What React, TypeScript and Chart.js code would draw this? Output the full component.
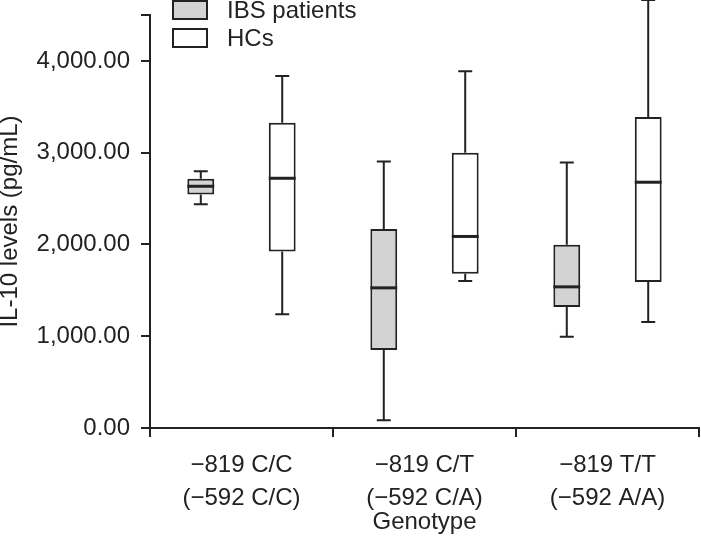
import React, { useEffect, useRef } from "react";
import { Chart, registerables } from "chart.js";

Chart.register(...registerables);

// ---- Data ----
const CATEGORIES: string[][] = [
  ["\u2212819 C/C", "(\u2212592 C/C)"],
  ["\u2212819 C/T", "(\u2212592 C/A)"],
  ["\u2212819 T/T", "(\u2212592 A/A)"],
];
const SERIES_NAMES = ["IBS patients", "HCs"];

const IBS_MIN = [2437, 84, 995];
const IBS_Q1 = [2543, 849, 1319];
const IBS_MEDIAN = [2634, 1527, 1538];
const IBS_Q3 = [2715, 2168, 1997];
const IBS_MAX = [2798, 2904, 2893];

const HC_MIN = [1239, 1603, 1155];
const HC_Q1 = [1923, 1680, 1592];
const HC_MEDIAN = [2721, 2087, 2678];
const HC_Q3 = [3327, 2999, 3388];
const HC_MAX = [3836, 3887, 4663];

const Y_TICKS = [0, 1000, 2000, 3000, 4000, 4500];
const Y_LABELED_MAX = 4000;

const X_TITLE = "Genotype";
const Y_TITLE = "IL-10 levels (pg/mL)";

// ---- Styles ----
const INK = "#222222";
const FONT_FAMILY = "'Liberation Sans', Arial, Helvetica, sans-serif";

const whiskerPlugin = {
  id: "whiskers",
  afterDatasetsDraw(chart: any) {
    const { ctx } = chart;
    const yScale = chart.scales.y;
    chart.data.datasets.forEach((ds: any, di: number) => {
      const meta = chart.getDatasetMeta(di);
      meta.data.forEach((el: any, i: number) => {
        const x = el.x;
        const w = el.width;
        const yMin = yScale.getPixelForValue(ds.stats.min[i]);
        const yMax = yScale.getPixelForValue(ds.stats.max[i]);
        const yQ1 = yScale.getPixelForValue(ds.data[i][0]);
        const yQ3 = yScale.getPixelForValue(ds.data[i][1]);
        const yMed = yScale.getPixelForValue(ds.stats.median[i]);
        ctx.save();
        ctx.strokeStyle = INK;
        ctx.lineWidth = 2;
        ctx.beginPath();
        ctx.moveTo(x, yQ3);
        ctx.lineTo(x, yMax);
        ctx.moveTo(x, yQ1);
        ctx.lineTo(x, yMin);
        const cap = w * 0.26;
        ctx.moveTo(x - cap, yMax);
        ctx.lineTo(x + cap, yMax);
        ctx.moveTo(x - cap, yMin);
        ctx.lineTo(x + cap, yMin);
        ctx.stroke();
        ctx.lineWidth = 3;
        ctx.beginPath();
        ctx.moveTo(x - w / 2, yMed);
        ctx.lineTo(x + w / 2, yMed);
        ctx.stroke();
        ctx.restore();
      });
    });
  },
};

const legendPlugin = {
  id: "boxLegend",
  afterDraw(chart: any) {
    const { ctx, chartArea } = chart;
    const x0 = chartArea.left + 23;
    ctx.save();
    chart.data.datasets.forEach((ds: any, i: number) => {
      const y0 = 1 + i * 28;
      ctx.fillStyle = ds.backgroundColor;
      ctx.fillRect(x0, y0, 34, 18);
      ctx.strokeStyle = INK;
      ctx.lineWidth = 2;
      ctx.strokeRect(x0, y0, 34, 18);
      ctx.fillStyle = INK;
      ctx.font = `24px ${FONT_FAMILY}`;
      ctx.textBaseline = "middle";
      ctx.textAlign = "left";
      ctx.fillText(ds.label, x0 + 54, y0 + 10);
    });
    ctx.restore();
  },
};

export default function App() {
  const canvasRef = useRef<HTMLCanvasElement | null>(null);

  useEffect(() => {
    document.body.style.margin = "0";
    const canvas = canvasRef.current;
    if (!canvas) return;

    const mk = (
      label: string,
      q1: number[],
      q3: number[],
      min: number[],
      median: number[],
      max: number[],
      fill: string
    ) => ({
      label,
      data: q1.map((v, i) => [v, q3[i]]),
      stats: { min, median, max },
      backgroundColor: fill,
      borderColor: INK,
      borderWidth: 2,
      borderSkipped: false,
      categoryPercentage: 0.89,
      barPercentage: 0.33,
      clip: false,
    });

    const chart = new Chart(canvas, {
      type: "bar",
      data: {
        labels: CATEGORIES,
        datasets: [
          mk(SERIES_NAMES[0], IBS_Q1, IBS_Q3, IBS_MIN, IBS_MEDIAN, IBS_MAX, "#d3d3d3"),
          mk(SERIES_NAMES[1], HC_Q1, HC_Q3, HC_MIN, HC_MEDIAN, HC_MAX, "#ffffff"),
        ] as any,
      },
      options: {
        animation: false,
        responsive: false,
        maintainAspectRatio: false,
        layout: { padding: { top: 15, right: 2, left: 0, bottom: 0 } },
        plugins: {
          legend: { display: false },
          tooltip: { enabled: false },
        },
        scales: {
          x: {
            type: "category",
            offset: true,
            grid: {
              offset: true,
              drawOnChartArea: false,
              drawTicks: true,
              tickLength: 9,
              color: INK,
              lineWidth: 2,
            },
            border: { display: true, color: INK, width: 2 },
            ticks: {
              color: INK,
              padding: 12,
              maxRotation: 0,
              font: { family: FONT_FAMILY, size: 24, lineHeight: 1.36 },
            },
            title: {
              display: true,
              text: X_TITLE,
              color: INK,
              padding: { top: 0, bottom: 0 },
              font: { family: FONT_FAMILY, size: 24, lineHeight: 1.2 },
            },
            afterFit: (scale: any) => {
              scale.height = 109;
              scale.paddingLeft = 0;
              scale.paddingRight = 0;
            },
          },
          y: {
            type: "linear",
            min: 0,
            max: 4500,
            afterBuildTicks: (scale: any) => {
              scale.ticks = Y_TICKS.map((v) => ({ value: v }));
            },
            grid: {
              drawOnChartArea: false,
              drawTicks: true,
              tickLength: 9,
              color: INK,
              lineWidth: 2,
            },
            border: { display: true, color: INK, width: 2 },
            ticks: {
              color: INK,
              padding: 11,
              font: { family: FONT_FAMILY, size: 24 },
              callback: (v: any) =>
                Number(v) > Y_LABELED_MAX
                  ? ""
                  : Number(v).toLocaleString("en-US", {
                      minimumFractionDigits: 2,
                      maximumFractionDigits: 2,
                    }),
            },
            title: {
              display: true,
              text: Y_TITLE,
              color: INK,
              padding: { top: 0, bottom: 0 },
              font: { family: FONT_FAMILY, size: 24, lineHeight: 0.84 },
            },
            afterFit: (scale: any) => {
              scale.width = 150;
              scale.paddingTop = 0;
              scale.paddingBottom = 0;
            },
          },
        },
      } as any,
      plugins: [whiskerPlugin, legendPlugin],
    });

    return () => chart.destroy();
  }, []);

  return (
    <div style={{ position: "fixed", left: 0, top: 0, width: 701, height: 537, background: "#fff" }}>
      <canvas ref={canvasRef} width={701} height={537} style={{ width: 701, height: 537 }} />
    </div>
  );
}
